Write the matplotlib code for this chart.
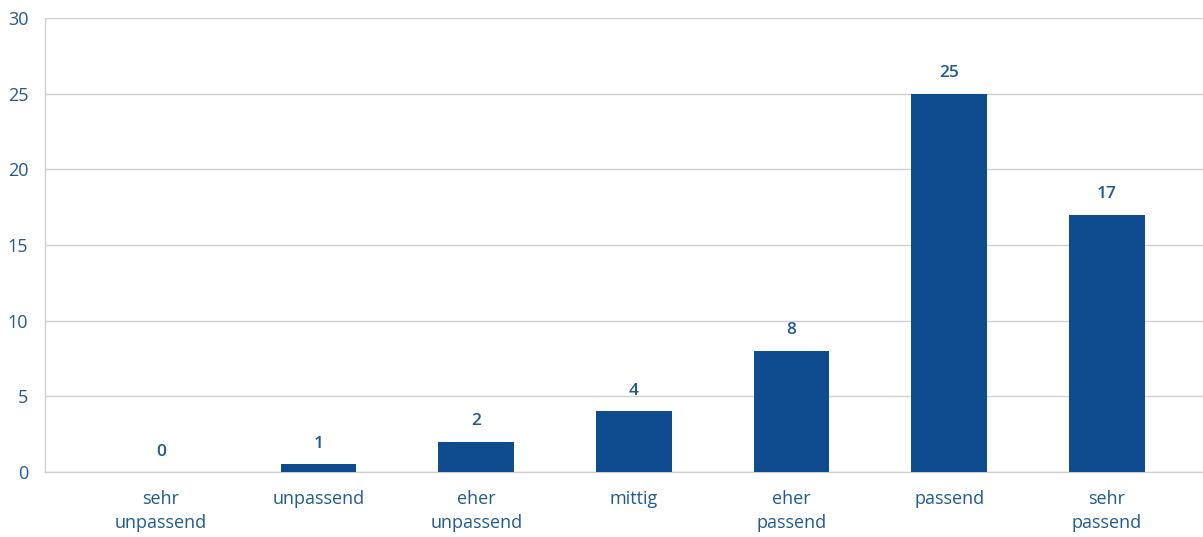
import matplotlib.pyplot as plt
import numpy as np

plt.rcParams["font.family"] = ["Open Sans", "DejaVu Sans"]

categories = ["sehr\nunpassend", "unpassend", "eher\nunpassend", "mittig",
              "eher\npassend", "passend", "sehr\npassend"]
# bar heights as drawn in the picture, and the value labels printed above them
bar_heights = [0, 0.5, 2, 4, 8, 25, 17]
value_labels = ["0", "1", "2", "4", "8", "25", "17"]
y_ticks = [0, 5, 10, 15, 20, 25, 30]

BAR = "#0f4c8f"
TEXT = "#1f5a96"
GRID = "#d0d0d0"

fig = plt.figure(figsize=(12.03, 5.37), dpi=100)
ax = fig.add_axes([45 / 1203, 1 - 472 / 537, 1 - 45 / 1203, (472 - 18) / 537])

x = np.arange(len(categories))
ax.bar(x, bar_heights, width=0.48, color=BAR, zorder=3)

for xi, h, lbl in zip(x, bar_heights, value_labels):
    ax.annotate(lbl, (xi, h), xytext=(0, 9), textcoords="offset points",
                ha="center", va="bottom", fontsize=12.5, fontweight="semibold", color=TEXT)

ax.set_xlim(-0.735, 6.61)
ax.set_ylim(0, 30)
ax.set_yticks(y_ticks)
ax.set_xticks(x)
ax.set_xticklabels(categories, fontsize=13, color=TEXT, linespacing=1.45)
ax.tick_params(axis="x", length=0, pad=13)
ax.tick_params(axis="y", length=0, pad=12, labelsize=13, labelcolor=TEXT)

ax.grid(axis="y", color=GRID, linewidth=1, zorder=0)
for side in ["top", "right"]:
    ax.spines[side].set_visible(False)
for side in ["left", "bottom"]:
    ax.spines[side].set_color(GRID)
    ax.spines[side].set_linewidth(1)

fig.savefig("out.png", dpi=100)
